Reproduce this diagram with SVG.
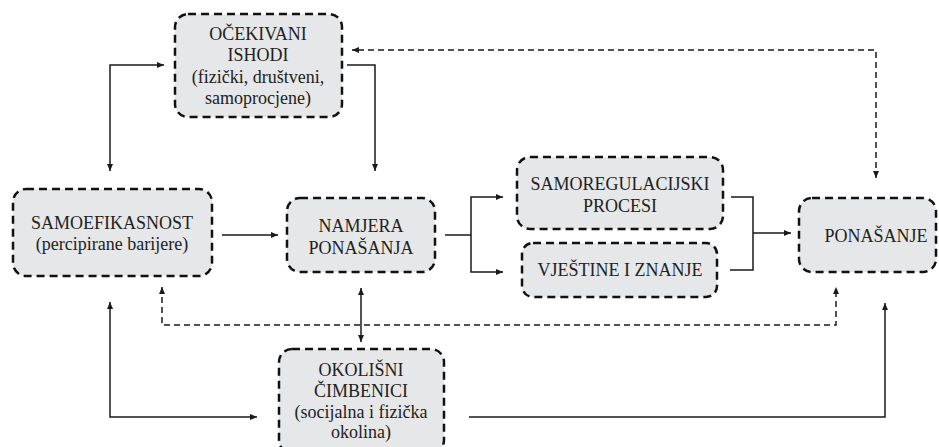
<svg xmlns="http://www.w3.org/2000/svg" width="939" height="447" viewBox="0 0 939 447">
<style>
.box{fill:#e6e7e8;stroke:#111;stroke-width:2.5;stroke-dasharray:8 5}
.t{font-family:"Liberation Serif","Times New Roman",serif;font-size:18px;fill:#222;text-anchor:middle}
.c{fill:none;stroke:#1a1a1a;stroke-width:1.5}
.d{fill:none;stroke:#1a1a1a;stroke-width:1.5;stroke-dasharray:6 4}
</style>
<defs>
<marker id="ah" markerUnits="userSpaceOnUse" markerWidth="8" markerHeight="8" refX="7" refY="3" orient="auto-start-reverse" viewBox="0 0 8 6">
<path d="M0,0 L7,3 L0,6 z" fill="#1a1a1a"/>
</marker>
</defs>
<rect width="939" height="447" fill="#fff"/>
<g id="connectors">
<path class="c" d="M110,171 V65 H164" marker-start="url(#ah)" marker-end="url(#ah)"/>
<path class="c" d="M347,65 H375 V171" marker-end="url(#ah)"/>
<path class="c" d="M222,235 H278" marker-end="url(#ah)"/>
<path class="c" d="M445,235 H471"/>
<path class="c" d="M503,197 H471 V272 H503" marker-start="url(#ah)" marker-end="url(#ah)"/>
<path class="c" d="M731,197 H753 V270 H730"/>
<path class="c" d="M753,233 H791" marker-end="url(#ah)"/>
<path class="d" d="M876,178 V50 H352" marker-start="url(#ah)" marker-end="url(#ah)"/>
<path class="d" d="M162,287 V325 H836 V287" marker-start="url(#ah)" marker-end="url(#ah)"/>
<path class="c" d="M361,288 V342" marker-start="url(#ah)" marker-end="url(#ah)"/>
<path class="c" d="M110,302 V417 H257" marker-start="url(#ah)" marker-end="url(#ah)"/>
<path class="c" d="M469,417 H885 V303" marker-end="url(#ah)"/>
</g>
<g id="ocekivani">
<rect class="box" x="175" y="14" width="167" height="103" rx="13"/>
<text class="t" x="258" y="40">OČEKIVANI</text>
<text class="t" x="258" y="61">ISHODI</text>
<text class="t" x="258" y="83">(fizički, društveni,</text>
<text class="t" x="258" y="104">samoprocjene)</text>
</g>
<g id="samoefikasnost">
<rect class="box" x="13" y="189" width="199" height="87" rx="13"/>
<text class="t" x="112" y="229">SAMOEFIKASNOST</text>
<text class="t" x="112" y="250">(percipirane barijere)</text>
</g>
<g id="namjera">
<rect class="box" x="287" y="198" width="148" height="74" rx="13"/>
<text class="t" x="361" y="232">NAMJERA</text>
<text class="t" x="361" y="254">PONAŠANJA</text>
</g>
<g id="samoregulacijski">
<rect class="box" x="517" y="157" width="206" height="72" rx="13"/>
<text class="t" x="620" y="190">SAMOREGULACIJSKI</text>
<text class="t" x="620" y="212">PROCESI</text>
</g>
<g id="vjestine">
<rect class="box" x="522" y="243" width="195" height="54" rx="11"/>
<text class="t" x="620" y="276">VJEŠTINE I ZNANJE</text>
</g>
<g id="ponasanje">
<rect class="box" x="799" y="198" width="137" height="74" rx="13"/>
<text class="t" x="876" y="242">PONAŠANJE</text>
</g>
<g id="okolisni">
<rect class="box" x="279" y="349" width="165" height="104" rx="13"/>
<text class="t" x="361" y="376">OKOLIŠNI</text>
<text class="t" x="361" y="397">ČIMBENICI</text>
<text class="t" x="361" y="418">(socijalna i fizička</text>
<text class="t" x="361" y="438">okolina)</text>
</g>
</svg>
